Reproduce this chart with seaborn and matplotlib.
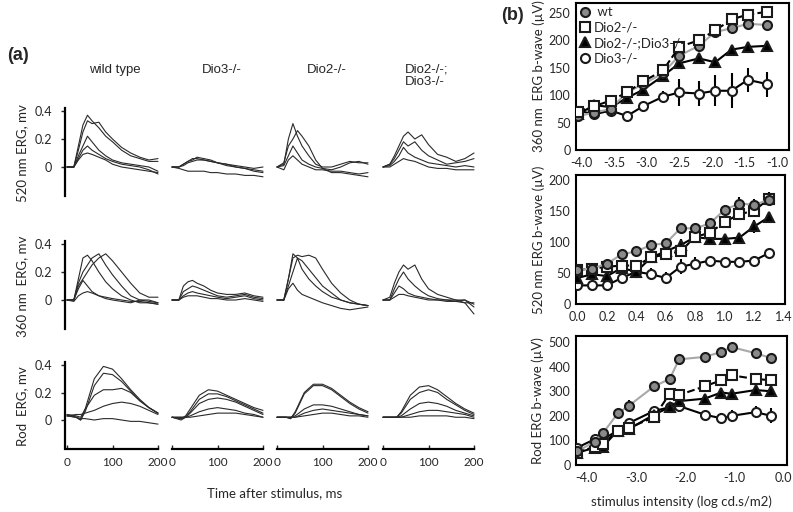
import numpy as np
import pandas as pd
import seaborn as sns
import matplotlib.pyplot as plt
from matplotlib.lines import Line2D

# ---- panel (a): ERG traces (mV) ----
genotypes = ["wild type", "Dio3-/-", "Dio2-/-", "Dio2-/-;\nDio3-/-"]
cone_t = [0, 15, 25, 35, 45, 55, 70, 85, 100, 120, 140, 160, 180, 200]
rod_t = [0, 20, 30, 40, 60, 80, 100, 120, 140, 160, 180, 200]

wt_520 = [
    [0, 0, 0.15, 0.30, 0.37, 0.33, 0.28, 0.22, 0.18, 0.12, 0.08, 0.06, 0.04, 0.04],
    [0, 0, 0.12, 0.25, 0.33, 0.31, 0.32, 0.25, 0.20, 0.14, 0.10, 0.07, 0.05, 0.06],
    [0, 0, 0.08, 0.15, 0.22, 0.18, 0.12, 0.08, 0.05, 0.03, 0.02, 0.01, 0.0, -0.03],
    [0, 0, 0.06, 0.12, 0.15, 0.12, 0.09, 0.06, 0.04, 0.02, 0.01, 0.0, -0.02, -0.05],
    [0, 0, 0.05, 0.09, 0.10, 0.09, 0.07, 0.05, 0.02, 0.0, -0.01, -0.02, -0.03, -0.04],
]
dio3_520 = [
    [0, 0, 0.02, 0.04, 0.05, 0.07, 0.06, 0.05, 0.03, 0.02, 0.0, -0.01, -0.02, -0.03],
    [0, 0, 0.02, 0.04, 0.06, 0.06, 0.05, 0.04, 0.03, 0.02, 0.01, 0.0, -0.01, 0.0],
    [0, 0, 0.01, 0.03, 0.04, 0.05, 0.05, 0.04, 0.03, 0.01, 0.0, -0.01, -0.03, -0.04],
    [0, -0.01, -0.02, -0.03, -0.03, -0.03, -0.03, -0.04, -0.04, -0.05, -0.05, -0.06, -0.06, -0.07],
]
dio2_520 = [
    [0, 0.02, 0.20, 0.31, 0.22, 0.15, 0.08, 0.02, 0.0, 0.0, 0.02, 0.04, 0.03, 0.03],
    [0, 0.03, 0.15, 0.20, 0.26, 0.22, 0.15, 0.05, -0.01, -0.04, -0.04, -0.05, -0.06, -0.07],
    [0, 0.01, 0.08, 0.15, 0.10, 0.05, 0.02, 0.0, -0.01, -0.02, 0.0, 0.03, 0.04, 0.02],
    [0, -0.02, 0.05, 0.08, 0.05, 0.02, 0.0, -0.02, -0.02, -0.03, -0.03, -0.04, -0.05, -0.04],
]
dko_520 = [
    [0, 0.02, 0.08, 0.15, 0.22, 0.25, 0.20, 0.23, 0.16, 0.09, 0.07, 0.04, 0.06, 0.10],
    [0, 0.02, 0.06, 0.12, 0.18, 0.15, 0.18, 0.12, 0.08, 0.05, 0.02, 0.03, 0.04, 0.06],
    [0, 0.01, 0.04, 0.08, 0.14, 0.10, 0.07, 0.05, 0.03, 0.02, 0.01, 0.0, 0.01, 0.0],
    [0, 0.0, 0.02, 0.04, 0.06, 0.05, 0.04, 0.02, 0.0, -0.01, -0.01, -0.02, -0.02, -0.02],
]

wt_360 = [
    [0, 0, 0.10, 0.15, 0.20, 0.25, 0.30, 0.33, 0.28, 0.20, 0.12, 0.05, 0.02, 0.02],
    [0, 0, 0.12, 0.20, 0.25, 0.30, 0.33, 0.25, 0.18, 0.10, 0.03, 0.0, 0.0, -0.02],
    [0, 0, 0.15, 0.30, 0.32, 0.28, 0.20, 0.13, 0.08, 0.03, 0.0, -0.02, -0.02, -0.03],
    [0, 0, 0.08, 0.14, 0.10, 0.06, 0.03, 0.01, 0.0, -0.01, -0.02, 0.0, -0.01, -0.02],
    [0, -0.01, 0.03, 0.05, 0.06, 0.05, 0.03, 0.02, 0.01, 0.0, -0.01, -0.01, -0.02, -0.03],
]
dio3_360 = [
    [0, 0, 0.10, 0.13, 0.14, 0.12, 0.10, 0.07, 0.05, 0.04, 0.04, 0.05, 0.03, 0.02],
    [0, 0, 0.06, 0.08, 0.10, 0.09, 0.07, 0.05, 0.03, 0.02, 0.03, 0.04, 0.02, 0.01],
    [0, 0, 0.03, 0.05, 0.06, 0.05, 0.04, 0.03, 0.02, 0.01, 0.02, 0.03, 0.01, 0.0],
    [0, 0, 0.02, 0.03, 0.03, 0.03, 0.02, 0.01, 0.01, 0.0, 0.0, 0.01, 0.0, -0.01],
]
dio2_360 = [
    [0, 0, 0.15, 0.30, 0.32, 0.31, 0.32, 0.30, 0.22, 0.12, 0.05, 0.0, -0.03, -0.04],
    [0, 0, 0.15, 0.33, 0.30, 0.28, 0.22, 0.16, 0.10, 0.05, 0.0, -0.02, -0.03, -0.04],
    [0, 0, 0.10, 0.20, 0.30, 0.22, 0.15, 0.10, 0.06, 0.02, 0.0, -0.02, -0.03, -0.04],
    [0, 0, 0.08, 0.12, 0.07, 0.04, 0.02, 0.0, -0.02, -0.04, -0.06, -0.07, -0.06, -0.05],
]
dko_360 = [
    [0, 0.02, 0.12, 0.20, 0.25, 0.22, 0.25, 0.15, 0.08, 0.04, 0.02, 0.0, 0.0, -0.05],
    [0, 0, 0.08, 0.15, 0.20, 0.15, 0.10, 0.06, 0.03, 0.01, 0.0, 0.0, -0.02, -0.10],
    [0, 0, 0.05, 0.10, 0.08, 0.05, 0.03, 0.02, 0.01, 0.0, 0.0, -0.01, 0.0, -0.03],
    [0, 0, 0.02, 0.04, 0.04, 0.03, 0.02, 0.01, 0.0, 0.0, -0.01, -0.01, -0.02, -0.02],
]

wt_rod = [
    [0.03, 0.02, 0.0, 0.08, 0.30, 0.39, 0.37, 0.30, 0.22, 0.15, 0.09, 0.05],
    [0.03, 0.02, 0.0, 0.06, 0.25, 0.34, 0.33, 0.28, 0.21, 0.14, 0.09, 0.05],
    [0.04, 0.03, 0.02, 0.08, 0.18, 0.22, 0.22, 0.23, 0.20, 0.14, 0.09, 0.05],
    [0.03, 0.04, 0.04, 0.05, 0.07, 0.10, 0.12, 0.13, 0.12, 0.10, 0.07, 0.04],
    [0.04, 0.02, 0.01, 0.01, 0.0, 0.01, 0.01, 0.0, -0.01, -0.01, -0.02, -0.03],
]
dio3_rod = [
    [0.02, 0.01, 0.03, 0.08, 0.18, 0.22, 0.21, 0.18, 0.15, 0.12, 0.09, 0.07],
    [0.02, 0.01, 0.02, 0.06, 0.15, 0.19, 0.19, 0.17, 0.14, 0.11, 0.08, 0.05],
    [0.02, 0.0, 0.02, 0.05, 0.12, 0.15, 0.16, 0.15, 0.13, 0.10, 0.07, 0.04],
    [0.02, 0.02, 0.02, 0.03, 0.06, 0.08, 0.09, 0.08, 0.07, 0.05, 0.04, 0.02],
    [0.02, 0.02, 0.02, 0.02, 0.03, 0.04, 0.05, 0.05, 0.05, 0.04, 0.03, 0.02],
]
dio2_rod = [
    [0.02, 0.02, 0.01, 0.06, 0.20, 0.26, 0.26, 0.23, 0.18, 0.13, 0.09, 0.06],
    [0.02, 0.02, 0.01, 0.05, 0.19, 0.25, 0.25, 0.22, 0.17, 0.12, 0.08, 0.05],
    [0.02, 0.02, 0.02, 0.03, 0.08, 0.11, 0.11, 0.10, 0.08, 0.06, 0.04, 0.03],
    [0.02, 0.02, 0.02, 0.02, 0.05, 0.07, 0.08, 0.07, 0.06, 0.05, 0.04, 0.03],
    [0.02, 0.02, 0.02, 0.02, 0.03, 0.04, 0.05, 0.05, 0.04, 0.03, 0.03, 0.02],
]
dko_rod = [
    [0.02, 0.02, 0.02, 0.06, 0.18, 0.24, 0.25, 0.22, 0.17, 0.12, 0.08, 0.05],
    [0.02, 0.02, 0.02, 0.05, 0.15, 0.20, 0.22, 0.20, 0.15, 0.11, 0.07, 0.04],
    [0.02, 0.02, 0.02, 0.03, 0.08, 0.12, 0.13, 0.12, 0.10, 0.07, 0.05, 0.03],
    [0.02, 0.02, 0.02, 0.02, 0.04, 0.06, 0.07, 0.07, 0.06, 0.05, 0.04, 0.02],
    [0.02, 0.02, 0.02, 0.02, 0.02, 0.03, 0.03, 0.03, 0.03, 0.02, 0.02, 0.01],
]

# ---- panel (b): b-wave amplitudes (uV) ----
x360 = [-4.05, -3.8, -3.55, -3.3, -3.05, -2.75, -2.5, -2.2, -1.95, -1.7, -1.45, -1.15]
b360_wt = [62, 68, 75, 105, 120, 140, 172, 190, 215, 222, 230, 228]
b360_wt_err = [5, 5, 5, 5, 5, 5, 8, 5, 5, 5, 5, 5]
b360_dio2 = [70, 80, 90, 105, 125, 145, 188, 200, 218, 238, 247, 252]
b360_dio2_err = [5, 5, 5, 5, 5, 5, 5, 5, 5, 5, 5, 5]
b360_dko = [65, 82, 78, 95, 110, 135, 158, 167, 160, 183, 188, 190]
b360_dko_err = [5, 5, 5, 5, 5, 5, 5, 5, 5, 5, 5, 5]
b360_dio3 = [72, 65, 72, 62, 80, 97, 105, 103, 108, 108, 128, 120]
b360_dio3_err = [5, 5, 5, 5, 10, 10, 25, 22, 28, 32, 22, 23]

x520 = [0.0, 0.1, 0.2, 0.3, 0.4, 0.5, 0.6, 0.7, 0.8, 0.9, 1.0, 1.1, 1.2, 1.3]
b520_wt = [55, 57, 65, 80, 85, 95, 98, 122, 122, 130, 152, 162, 160, 168]
b520_wt_err = [5, 5, 5, 5, 5, 8, 8, 5, 8, 5, 8, 10, 10, 8]
b520_dio2 = [55, 57, 60, 62, 62, 75, 80, 85, 108, 115, 132, 145, 150, 170]
b520_dio2_err = [5, 5, 5, 5, 5, 5, 5, 5, 5, 5, 5, 5, 5, 10]
b520_dko = [42, 48, 45, 58, 52, 75, 85, 95, 108, 105, 105, 107, 125, 140]
b520_dko_err = [5, 5, 8, 5, 5, 5, 8, 10, 8, 8, 5, 5, 10, 5]
b520_dio3 = [30, 30, 30, 42, 52, 48, 42, 60, 65, 70, 68, 68, 70, 82]
b520_dio3_err = [3, 3, 3, 3, 3, 10, 10, 12, 10, 5, 5, 5, 8, 3]

xrod = [-4.2, -3.84, -3.67, -3.37, -3.15, -2.63, -2.31, -2.12, -1.6, -1.26, -1.05, -0.56, -0.24]
brod_wt = [55, 95, 130, 210, 240, 320, 350, 430, 440, 460, 480, 455, 435]
brod_wt_err = [5, 5, 10, 10, 25, 8, 15, 20, 15, 15, 8, 8, 8]
brod_dio2 = [50, 75, 85, 140, 150, 195, 290, 285, 320, 345, 365, 350, 345]
brod_dio2_err = [5, 5, 5, 5, 5, 10, 15, 25, 15, 15, 15, 15, 15]
brod_dko = [50, 70, 75, 140, 145, 205, 235, 260, 270, 295, 290, 305, 300]
brod_dko_err = [5, 5, 5, 5, 5, 15, 10, 20, 20, 20, 20, 20, 15]
brod_dio3 = [70, 105, 105, 140, 170, 220, 235, 240, 205, 190, 200, 215, 200]
brod_dio3_err = [5, 10, 10, 5, 10, 10, 10, 25, 15, 20, 25, 25, 30]

sns.set_style("white")
plt.rcParams["font.family"] = ["Lato", "DejaVu Sans"]

W, H = 793, 512
fig = plt.figure(figsize=(W / 100, H / 100), dpi=100)


def px_axes(left, top, right, bottom):
    return fig.add_axes([left / W, 1 - bottom / H, (right - left) / W, (bottom - top) / H])


# ---- (a) traces ----
rows = [
    ("520 nm ERG, mv", cone_t, [wt_520, dio3_520, dio2_520, dko_520], 167, 140),
    ("360 nm  ERG, mv", cone_t, [wt_360, dio3_360, dio2_360, dko_360], 300, 140),
    ("Rod  ERG, mv", rod_t, [wt_rod, dio3_rod, dio2_rod, dko_rod], 420, 137.5),
]
col_x0 = [67, 172, 277, 383]
ppms = 0.455
for r, (ylab, t, panels, y0, ppu) in enumerate(rows):
    for c, traces in enumerate(panels):
        ax = px_axes(col_x0[c] - 5 * ppms, y0 - 0.42 * ppu,
                     col_x0[c] + 205 * ppms, y0 + 0.21 * ppu)
        for tr in traces:
            sns.lineplot(x=t, y=tr, ax=ax, color="#2a2a2a", lw=0.8)
        ax.set_xlim(-5, 205)
        ax.set_ylim(-0.21, 0.42)
        for s in ["top", "right"]:
            ax.spines[s].set_visible(False)
        ax.spines["left"].set_visible(c == 0)
        ax.spines["left"].set_linewidth(1.6)
        ax.spines["left"].set_color("black")
        if c == 0:
            ax.set_yticks([0, 0.2, 0.4])
            ax.set_yticklabels(["0", "0.2", "0.4"], fontsize=9)
            ax.tick_params(axis="y", length=3, width=1, pad=6, left=True)
        else:
            ax.set_yticks([])
        if r == 2:
            ax.spines["bottom"].set_bounds(0, 200)
            ax.spines["bottom"].set_linewidth(1.6)
            ax.spines["bottom"].set_color("black")
            ax.set_xticks([0, 100, 200])
            ax.set_xticklabels(["0", "100", "200"], fontsize=8.5)
            ax.tick_params(axis="x", direction="in", length=3, width=1, pad=6, bottom=True)
        else:
            ax.spines["bottom"].set_visible(False)
            ax.set_xticks([])
    fig.text(22 / W, 1 - (y0 - 14) / H, ylab, rotation=90, ha="center", va="center", fontsize=9.5)

title_x = [115, 222, 327, 405]
for c, g in enumerate(genotypes):
    if "\n" in g:
        fig.text(title_x[c] / W, 1 - 63 / H, g, ha="left", va="top", fontsize=9.5,
                 family="Liberation Sans", linespacing=1.1)
    else:
        fig.text(title_x[c] / W, 1 - 70 / H, g, ha="center", va="center", fontsize=9.5,
                 family="Liberation Sans")
fig.text(275 / W, 1 - 493 / H, "Time after stimulus, ms", ha="center", va="center", fontsize=9.5)
fig.text(18 / W, 1 - 56 / H, "(a)", ha="center", va="center", fontsize=13, fontweight="bold",
         family="Liberation Sans")
fig.text(512 / W, 1 - 16 / H, "(b)", ha="center", va="center", fontsize=13, fontweight="bold",
         family="Liberation Sans")

# ---- (b) b-wave intensity series ----
styles = {
    "wt": dict(color="#a8a8a8", ls="-", marker="o", mfc="#8a8a8a"),
    "Dio2-/-": dict(color="black", ls="--", marker="s", mfc="white"),
    "Dio2-/-;Dio3-/-": dict(color="black", ls="-", marker="^", mfc="black"),
    "Dio3-/-": dict(color="black", ls="-", marker="o", mfc="white"),
}

panels_b = [
    (x360, [("Dio3-/-", b360_dio3, b360_dio3_err), ("Dio2-/-;Dio3-/-", b360_dko, b360_dko_err),
            ("wt", b360_wt, b360_wt_err), ("Dio2-/-", b360_dio2, b360_dio2_err)],
     (576, 3, 789, 150), (-4.08, -0.82), (0, 268), np.arange(-4.0, -0.9, 0.5),
     np.arange(0, 251, 50), "360 nm  ERG b-wave (\u00b5V)"),
    (x520, [("Dio3-/-", b520_dio3, b520_dio3_err), ("Dio2-/-;Dio3-/-", b520_dko, b520_dko_err),
            ("Dio2-/-", b520_dio2, b520_dio2_err), ("wt", b520_wt, b520_wt_err)],
     (576, 175, 785, 304), (-0.01, 1.41), (0, 208), np.arange(0, 1.41, 0.2),
     np.arange(0, 201, 50), "520 nm ERG b-wave (\u00b5V)"),
    (xrod, [("Dio3-/-", brod_dio3, brod_dio3_err), ("Dio2-/-;Dio3-/-", brod_dko, brod_dko_err),
            ("Dio2-/-", brod_dio2, brod_dio2_err), ("wt", brod_wt, brod_wt_err)],
     (576, 336, 787, 465), (-4.22, 0.08), (0, 525), np.arange(-4.0, 0.1, 1.0),
     np.arange(0, 501, 100), "Rod ERG b-wave (\u00b5V)"),
]

for i, (xs, series, box, xl, yl, xt, yt, ylab) in enumerate(panels_b):
    ax = px_axes(*box)
    for name, ys, err in series:
        st = styles[name]
        ax.errorbar(xs, ys, yerr=err, fmt="none", ecolor="black", elinewidth=1.5, capsize=0, zorder=2)
        sns.lineplot(x=xs, y=ys, ax=ax, color=st["color"], linestyle=st["ls"], lw=1.5,
                     marker=st["marker"], markersize=6.5, markerfacecolor=st["mfc"],
                     markeredgecolor="#1a1a1a", markeredgewidth=1.5, zorder=3)
    ax.set_xlim(*xl)
    ax.set_ylim(*yl)
    ax.set_xticks(xt)
    ax.set_xticklabels(["{:.1f}".format(v) for v in xt], fontsize=9)
    ax.set_yticks(yt)
    ax.set_yticklabels([str(v) for v in yt], fontsize=9)
    ax.tick_params(length=0)
    ax.tick_params(axis="x", pad=5)
    ax.tick_params(axis="y", pad=4)
    ax.set_ylabel(ylab, fontsize=9.5, labelpad=3)
    for s in ax.spines.values():
        s.set_visible(True)
        s.set_linewidth(1.5)
        s.set_color("black")
    if i == 0:
        handles = [Line2D([], [], ls="none", marker=styles[n]["marker"], markersize=6.5,
                          markerfacecolor=styles[n]["mfc"], markeredgecolor="#1a1a1a",
                          markeredgewidth=1.5)
                   for n in ["wt", "Dio2-/-", "Dio2-/-;Dio3-/-", "Dio3-/-"]]
        ax.legend(handles, [" wt", "Dio2-/-", "Dio2-/-;Dio3-/-", "Dio3-/-"], loc="upper left",
                  frameon=False, fontsize=9.5, handlelength=0.8, handletextpad=0.3,
                  labelspacing=0.25, borderaxespad=0.15, borderpad=0.1)
    if i == 2:
        ax.set_xlabel("stimulus intensity (log cd.s/m2)", fontsize=9.5, labelpad=8)

fig.savefig("out.png", dpi=100)
